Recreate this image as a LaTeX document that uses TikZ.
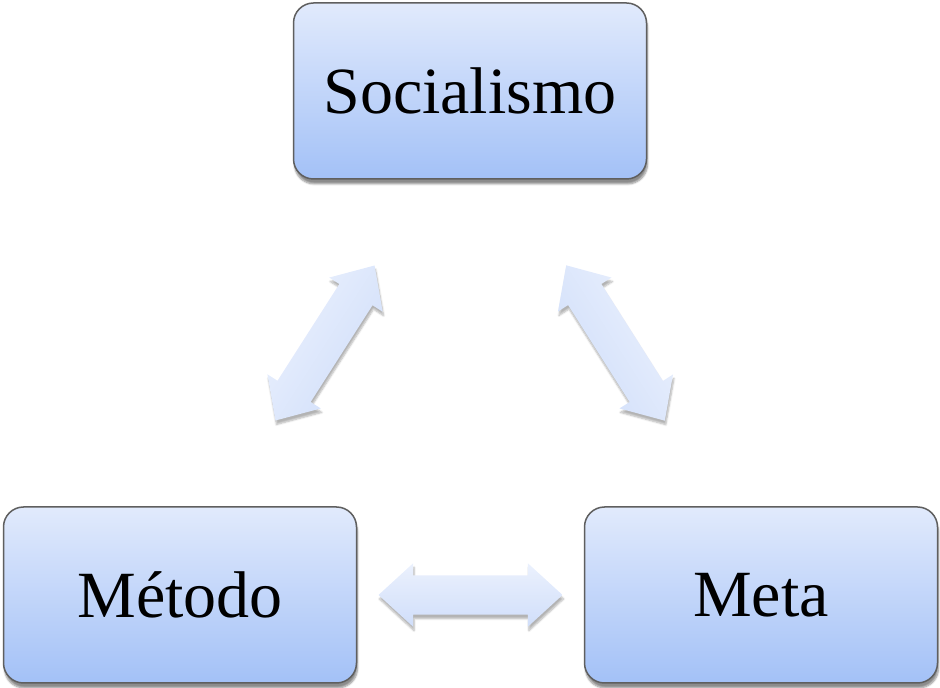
\documentclass[tikz,border=0pt]{standalone}
\usepackage{fontspec}
\setmainfont{Liberation Serif}
\usetikzlibrary{shapes.arrows,shadows.blur,calc}
\definecolor{boxtop}{RGB}{225,234,252}
\definecolor{boxbot}{RGB}{163,193,247}
\definecolor{boxline}{RGB}{95,95,95}
\definecolor{arrtop}{RGB}{235,241,253}
\definecolor{arrbot}{RGB}{208,222,250}
\tikzset{
	idea/.style={draw=boxline,line width=1.5pt,rounded corners=20pt,top color=boxtop,bottom color=boxbot,
		minimum width=353pt,minimum height=176pt,inner sep=0pt,font=\fontsize{66}{70}\selectfont,
		blur shadow={shadow xshift=1pt,shadow yshift=-5pt,shadow blur steps=6,shadow opacity=45}},
	link/.style={double arrow,double arrow tip angle=85,double arrow head extend=12pt,inner sep=19.5pt,
		minimum width=63pt,minimum height=184pt,top color=arrtop,bottom color=arrbot,
		blur shadow={shadow xshift=1pt,shadow yshift=-4pt,shadow blur steps=6,shadow opacity=30}}
}
\begin{document}
\begin{tikzpicture}[x=1pt,y=1pt]
		\useasboundingbox (0,0) rectangle (940,688);
		\node[idea] (soc) at (470,597) {Socialismo};
		\node[idea] (met) at (180,93) {Método};
		\node[idea] (meta) at (761,93) {Meta};
		\node[link,rotate=57.4,shading angle=57.4] (ms) at ($(met)!0.5!(soc)$) {};
		\node[link,rotate=-57.6,shading angle=-57.6] (sm) at ($(meta)!0.5!(soc)$) {};
		\node[link] (mm) at ($(met)!0.5!(meta)$) {};
\end{tikzpicture}
\end{document}
